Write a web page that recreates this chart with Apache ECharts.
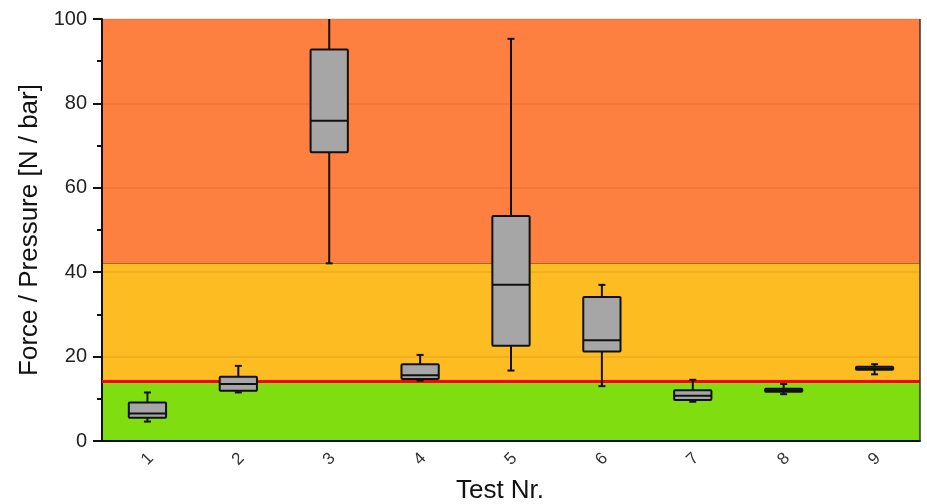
<!DOCTYPE html>
<html>
<head>
<meta charset="utf-8">
<script src="https://cdn.jsdelivr.net/npm/echarts@6/dist/echarts.min.js"></script>
<style>
  html, body { margin: 0; padding: 0; background: #fff; }
  #chart { width: 927px; height: 504px; }
</style>
</head>
<body>
<div id="chart"></div>
<script>
// Test Nr. categories
const tests = ['1', '2', '3', '4', '5', '6', '7', '8', '9'];
// box statistics per test
const whiskerLow = [4.6, 11.5, 42.1, 14.3, 16.7, 13.0, 9.3, 11.1, 15.8];
const boxLow     = [5.5, 11.9, 68.4, 14.7, 22.6, 21.2, 9.7, 11.7, 16.9];
const medians    = [6.5, 13.5, 75.9, 15.6, 37.0, 23.9, 10.7, 12.0, 17.2];
const boxHigh    = [9.1, 15.2, 92.8, 18.2, 53.3, 34.1, 12.0, 12.4, 17.6];
const whiskerHigh= [11.5, 17.8, 104, 20.4, 95.3, 37.0, 14.5, 13.5, 18.2];
// limit zones
const zoneLimits = [0, 14.1, 42.2, 100];
const zoneColors = ['#80dd10', '#fdbc21', '#fe8040'];
const redLimit = 14.1;

const FONT = '"Liberation Sans", Arial, sans-serif';

const boxData = tests.map((t, i) => [i, whiskerLow[i], boxLow[i], medians[i], boxHigh[i], whiskerHigh[i]]);

function renderBox(params, api) {
  const x = api.value(0);
  const bw = api.size([1, 0])[0] * 0.41;
  const cap = 7;
  const pLo = api.coord([x, api.value(1)]);
  const pQ1 = api.coord([x, api.value(2)]);
  const pMd = api.coord([x, api.value(3)]);
  const pQ3 = api.coord([x, api.value(4)]);
  const pHi = api.coord([x, api.value(5)]);
  const cx = pMd[0];
  const line = { stroke: '#111', lineWidth: 2 };
  return {
    type: 'group',
    children: [
      { type: 'line', shape: { x1: cx, y1: pQ3[1], x2: cx, y2: pHi[1] }, style: line },
      { type: 'line', shape: { x1: cx, y1: pQ1[1], x2: cx, y2: pLo[1] }, style: line },
      { type: 'line', shape: { x1: cx - cap / 2, y1: pHi[1], x2: cx + cap / 2, y2: pHi[1] }, style: line },
      { type: 'line', shape: { x1: cx - cap / 2, y1: pLo[1], x2: cx + cap / 2, y2: pLo[1] }, style: line },
      { type: 'rect', shape: { x: cx - bw / 2, y: pQ3[1], width: bw, height: pQ1[1] - pQ3[1], r: 1 },
        style: { fill: '#a6a6a6', stroke: '#111', lineWidth: 2 } },
      { type: 'line', shape: { x1: cx - bw / 2, y1: pMd[1], x2: cx + bw / 2, y2: pMd[1] }, style: line }
    ]
  };
}

const chart = echarts.init(document.getElementById('chart'));
chart.setOption({
  animation: false,
  backgroundColor: '#fff',
  grid: { left: 102, right: 7, top: 19, bottom: 63, outerBoundsMode: 'none', containLabel: false },
  xAxis: {
    type: 'category', data: tests, z: 6,
    name: 'Test Nr.', nameLocation: 'middle', nameGap: 37,
    nameTextStyle: { fontFamily: FONT, fontSize: 26, color: '#111', padding: [0, 22, 0, 0] },
    axisLine: { lineStyle: { color: '#111', width: 2 } },
    axisTick: { alignWithLabel: true, length: 6, lineStyle: { color: '#111', width: 2 } },
    axisLabel: { rotate: 45, align: 'center', verticalAlign: 'middle', fontFamily: FONT, fontSize: 17, color: '#333', margin: 18 },
    splitLine: { show: false }
  },
  yAxis: {
    type: 'value', min: 0, max: 100, interval: 20, z: 2,
    name: 'Force / Pressure [N / bar]', nameLocation: 'middle', nameGap: 57,
    nameTextStyle: { fontFamily: FONT, fontSize: 26, color: '#111' },
    axisLine: { show: true, lineStyle: { color: '#111', width: 2 } },
    axisTick: { show: true, length: 9, lineStyle: { color: '#111', width: 2 } },
    minorTick: { show: true, splitNumber: 2, length: 5, lineStyle: { color: '#111', width: 2 } },
    axisLabel: { fontFamily: FONT, fontSize: 20, color: '#222', margin: 15 },
    splitLine: { show: true, lineStyle: { color: 'rgba(120,50,0,0.13)', width: 1.5 } }
  },
  series: [
    {
      type: 'line', data: [], z: 1, silent: true,
      markArea: {
        silent: true, z: 1,
        data: zoneColors.map((c, i) => [
          { yAxis: zoneLimits[i], itemStyle: { color: c } },
          { yAxis: zoneLimits[i + 1] }
        ])
      },
      markLine: {
        silent: true, z: 1, symbol: 'none', label: { show: false },
        lineStyle: { color: 'rgba(90,60,40,0.6)', width: 1, type: 'solid' },
        data: [{ yAxis: zoneLimits[2] }]
      }
    },
    {
      type: 'line', data: [], z: 3, silent: true,
      markLine: {
        silent: true, z: 3, symbol: 'none', label: { show: false },
        lineStyle: { color: '#ff0000', width: 3, type: 'solid' },
        data: [{ yAxis: redLimit }]
      }
    },
    {
      type: 'custom', z: 4, clip: true,
      renderItem: renderBox,
      encode: { x: 0, y: [1, 2, 3, 4, 5] },
      data: boxData
    }
  ]
});

// right frame edge
chart.setOption({
  graphic: [{
    type: 'line', z: 10,
    shape: { x1: 920, y1: 19, x2: 920, y2: 441 },
    style: { stroke: '#333', lineWidth: 1.5 }
  }]
});
</script>
</body>
</html>
